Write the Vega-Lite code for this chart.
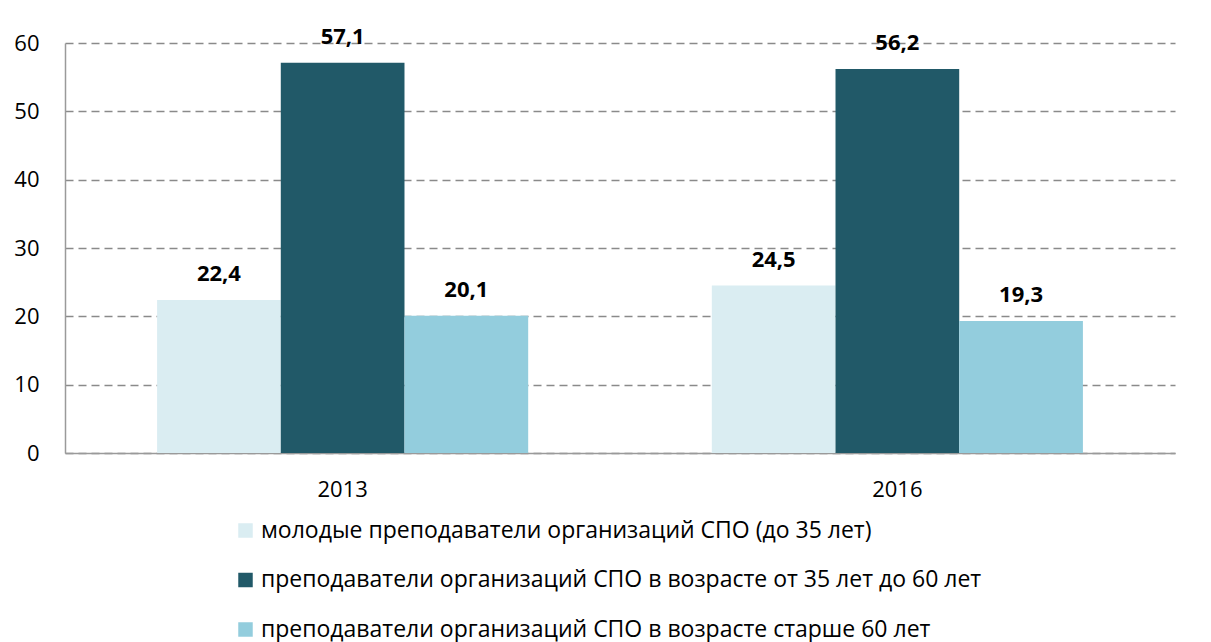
{
  "$schema": "https://vega.github.io/schema/vega-lite/v6.json",
  "width": 1110,
  "height": 410,
  "autosize": "none",
  "padding": {"left": 65, "top": 43, "right": 36, "bottom": 189},
  "background": "white",
  "config": {
    "font": "Open Sans",
    "view": {"stroke": null},
    "locale": {"number": {"decimal": ",", "thousands": " ", "grouping": [3], "currency": ["", ""]}}
  },
  "data": {
    "values": [
      {"year": "2013", "group": "молодые преподаватели организаций СПО (до 35 лет)", "value": 22.4},
      {"year": "2013", "group": "\u00a0преподаватели организаций СПО в возрасте от 35 лет до 60 лет", "value": 57.1},
      {"year": "2013", "group": "преподаватели организаций СПО в возрасте старше 60 лет", "value": 20.1},
      {"year": "2016", "group": "молодые преподаватели организаций СПО (до 35 лет)", "value": 24.5},
      {"year": "2016", "group": "\u00a0преподаватели организаций СПО в возрасте от 35 лет до 60 лет", "value": 56.2},
      {"year": "2016", "group": "преподаватели организаций СПО в возрасте старше 60 лет", "value": 19.3}
    ]
  },
  "encoding": {
    "x": {
      "field": "year", "type": "nominal", "title": null,
      "scale": {"paddingInner": 0.331, "paddingOuter": 0.166},
      "axis": {"labelAngle": 0, "ticks": false, "labelPadding": 26, "labelFontSize": 22, "labelColor": "#000", "domainColor": "#9a9a9a", "domainWidth": 1.5}
    },
    "xOffset": {
      "field": "group", "type": "nominal",
      "sort": ["молодые преподаватели организаций СПО (до 35 лет)", "\u00a0преподаватели организаций СПО в возрасте от 35 лет до 60 лет", "преподаватели организаций СПО в возрасте старше 60 лет"],
      "scale": {"paddingInner": 0, "paddingOuter": 0}
    },
    "y": {
      "field": "value", "type": "quantitative", "title": null,
      "scale": {"domain": [0, 60], "nice": false},
      "axis": {"values": [0, 10, 20, 30, 40, 50, 60], "ticks": false, "labelPadding": 26, "labelFontSize": 22, "labelColor": "#000", "domainColor": "#9a9a9a", "domainWidth": 1.5, "gridColor": "#8a8a8a", "gridDash": [8, 5], "gridWidth": 1.3}
    }
  },
  "layer": [
    {
      "mark": {"type": "bar"},
      "encoding": {
        "color": {
          "field": "group", "type": "nominal",
          "sort": ["молодые преподаватели организаций СПО (до 35 лет)", "\u00a0преподаватели организаций СПО в возрасте от 35 лет до 60 лет", "преподаватели организаций СПО в возрасте старше 60 лет"],
          "scale": {
            "domain": ["молодые преподаватели организаций СПО (до 35 лет)", "\u00a0преподаватели организаций СПО в возрасте от 35 лет до 60 лет", "преподаватели организаций СПО в возрасте старше 60 лет"],
            "range": ["#daedf2", "#215968", "#93cddd"]
          },
          "legend": {
            "title": null, "orient": "none", "legendX": 169, "legendY": 476,
            "direction": "vertical",
            "symbolType": "square", "symbolSize": 210, "symbolStrokeWidth": 0,
            "labelFontSize": 23, "labelColor": "#000", "labelOffset": 4, "rowPadding": 25.5,
            "labelLimit": 1000
          }
        }
      }
    },
    {
      "mark": {"type": "text", "baseline": "alphabetic", "dy": -19, "fontSize": 22, "fontWeight": "bold", "color": "#000"},
      "encoding": {
        "text": {"field": "value", "type": "quantitative", "format": ".1f"}
      }
    }
  ]
}
